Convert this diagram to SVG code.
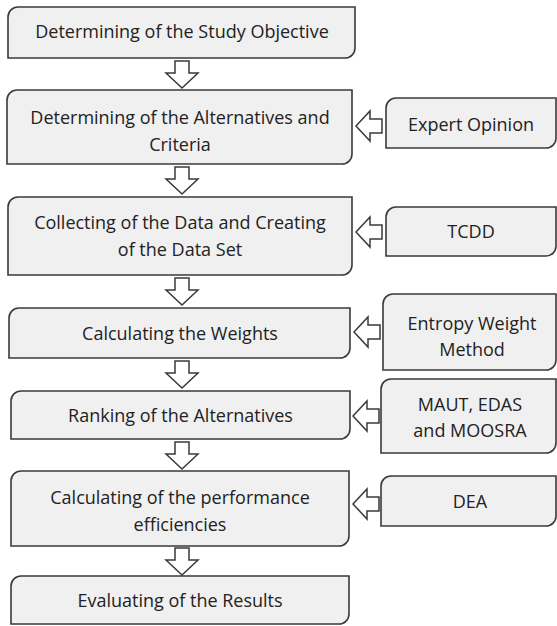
<svg xmlns="http://www.w3.org/2000/svg" width="557" height="626" viewBox="0 0 557 626">
<style>
.box{fill:#f0f0f0;stroke:#3a3a3a;stroke-width:1.6}
.arr{fill:#ffffff;stroke:#3a3a3a;stroke-width:1.5;stroke-linejoin:miter}
text{font-family:"Open Sans","Noto Sans",sans-serif;font-size:18px;fill:#222;text-anchor:middle}
</style>
<rect width="557" height="626" fill="#ffffff"/>
<g id="n1"><path class="box" d="M18,7 H355 V48 A10,10 0 0 1 345,58 H8 V17 A10,10 0 0 1 18,7 Z"/><text x="182" y="38">Determining of the Study Objective</text></g>
<g id="n2"><path class="box" d="M17,90 H352 V154 A10,10 0 0 1 342,164 H7 V100 A10,10 0 0 1 17,90 Z"/><text x="180" y="124">Determining of the Alternatives and</text><text x="180" y="151">Criteria</text></g>
<g id="n3"><path class="box" d="M18,197 H352 V265 A10,10 0 0 1 342,275 H8 V207 A10,10 0 0 1 18,197 Z"/><text x="180" y="229">Collecting of the Data and Creating</text><text x="180" y="256">of the Data Set</text></g>
<g id="n4"><path class="box" d="M19,308 H350 V348 A10,10 0 0 1 340,358 H9 V318 A10,10 0 0 1 19,308 Z"/><text x="180" y="340">Calculating the Weights</text></g>
<g id="n5"><path class="box" d="M21,391 H350 V429 A10,10 0 0 1 340,439 H11 V401 A10,10 0 0 1 21,391 Z"/><text x="180.5" y="422">Ranking of the Alternatives</text></g>
<g id="n6"><path class="box" d="M21,471 H349 V536 A10,10 0 0 1 339,546 H11 V481 A10,10 0 0 1 21,471 Z"/><text x="180" y="504">Calculating of the performance</text><text x="180" y="531">efficiencies</text></g>
<g id="n7"><path class="box" d="M21,576 H349 V614 A10,10 0 0 1 339,624 H11 V586 A10,10 0 0 1 21,576 Z"/><text x="180" y="607">Evaluating of the Results</text></g>
<g id="r1"><path class="box" d="M396,98 H556 V138 A10,10 0 0 1 546,148 H386 V108 A10,10 0 0 1 396,98 Z"/><text x="471" y="131">Expert Opinion</text></g>
<g id="r2"><path class="box" d="M396,207 H556 V246 A10,10 0 0 1 546,256 H386 V217 A10,10 0 0 1 396,207 Z"/><text x="471" y="238">TCDD</text></g>
<g id="r3"><path class="box" d="M393,294 H556 V360 A10,10 0 0 1 546,370 H383 V304 A10,10 0 0 1 393,294 Z"/><text x="472" y="330">Entropy Weight</text><text x="472" y="356">Method</text></g>
<g id="r4"><path class="box" d="M391,379 H556 V443 A10,10 0 0 1 546,453 H381 V389 A10,10 0 0 1 391,379 Z"/><text x="470" y="411">MAUT, EDAS</text><text x="470" y="437">and MOOSRA</text></g>
<g id="r5"><path class="box" d="M391,476 H556 V516 A10,10 0 0 1 546,526 H381 V486 A10,10 0 0 1 391,476 Z"/><text x="470" y="508">DEA</text></g>
<g id="connectors">
<path class="arr" d="M175,61 H189 V73 H198 L182,88 L166,73 H175 Z"/>
<path class="arr" d="M175,167 H189 V179 H198 L182,194 L166,179 H175 Z"/>
<path class="arr" d="M175,278 H189 V290 H198 L182,305 L166,290 H175 Z"/>
<path class="arr" d="M175,361 H189 V373 H198 L182,388 L166,373 H175 Z"/>
<path class="arr" d="M175,442 H189 V454 H198 L182,469 L166,454 H175 Z"/>
<path class="arr" d="M175,548 H189 V560 H198 L182,575 L166,560 H175 Z"/>
<path class="arr" d="M382,119 H370 V111 L356,126 L370,141 V133 H382 Z"/>
<path class="arr" d="M382,225 H370 V217 L356,232 L370,247 V239 H382 Z"/>
<path class="arr" d="M380,325 H368 V317 L354,332 L368,347 V339 H380 Z"/>
<path class="arr" d="M379,409 H367 V401 L353,416 L367,431 V423 H379 Z"/>
<path class="arr" d="M379,497 H367 V489 L353,504 L367,519 V511 H379 Z"/>
</g>
</svg>
